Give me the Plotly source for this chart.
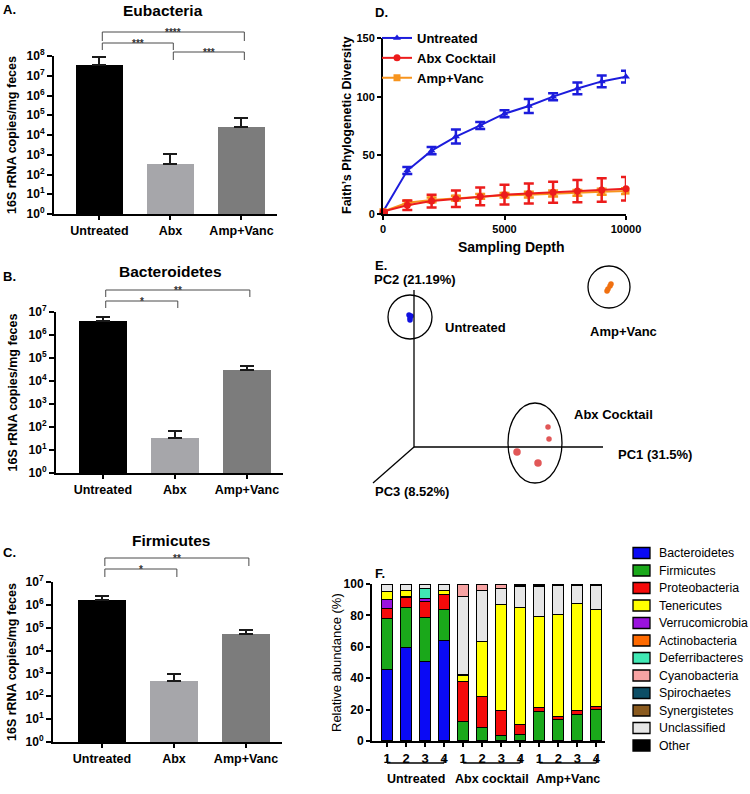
import plotly.graph_objects as go

W, H = 750, 794


def px(x):
    return x / W


def py(y):
    return 1 - y / H


FONT = "Arial, 'Liberation Sans', Helvetica, sans-serif"

# ---------------- data ----------------
groups = ["Untreated", "Abx", "Amp+Vanc"]
eub_mean = [3.5e7, 3.6e2, 2.6e4]
eub_upper = [9.0e7, 1.07e3, 7.4e4]
bac_mean = [4.1e6, 34, 3.1e4]
bac_upper = [6.0e6, 65, 4.4e4]
fir_mean = [1.7e6, 490, 5.5e4]
fir_upper = [2.5e6, 920, 8.3e4]
eub_sig = [(0, 2, "****"), (0, 1, "***"), (1, 2, "***")]
bac_sig = [(0, 2, "**"), (0, 1, "*")]
fir_sig = [(0, 2, "**"), (0, 1, "*")]

depth = [0, 1000, 2000, 3000, 4000, 5000, 6000, 7000, 8000, 9000, 10000]
pd_untreated = [2, 37, 54, 66, 75.5, 85.5, 92, 100, 107, 113, 117]
pd_untreated_err = [1, 3, 3, 6, 3, 3, 6, 3, 5, 5, 5]
pd_abx = [2, 7.5, 11, 13, 15, 16.5, 17.5, 18.5, 19.5, 20.5, 21.5]
pd_abx_err = [1, 4, 5.5, 7, 7.5, 8.5, 8.5, 9, 9.5, 10, 10]
pd_amp = [2, 9.5, 12, 13.5, 15, 16, 16.5, 17.5, 18, 19, 19.5]
pd_amp_err = [0.5, 1.5, 2, 2, 2, 2, 2.5, 2.5, 2.5, 2.5, 2.5]

# PCoA scores (arbitrary units)
pcoa_groups = ["Untreated", "Amp+Vanc", "Abx Cocktail"]
pc1 = {"Untreated": [-0.05, -0.04, -0.03, -0.04],
       "Amp+Vanc": [1.93, 1.94, 1.96, 1.97],
       "Abx Cocktail": [1.34, 1.35, 1.03, 1.24]}
pc2 = {"Untreated": [1.32, 1.29, 1.31, 1.27],
       "Amp+Vanc": [1.56, 1.58, 1.61, 1.63],
       "Abx Cocktail": [0.20, 0.08, -0.05, -0.16]}
pc3 = {"Untreated": [0.0, 0.0, 0.0, 0.0],
       "Amp+Vanc": [0.0, 0.0, 0.0, 0.0],
       "Abx Cocktail": [-0.5, -0.5, 0.5, 0.5]}
pc_labels = ["PC1 (31.5%)", "PC2 (21.19%)", "PC3 (8.52%)"]

samples = ["1", "2", "3", "4"] * 3
sample_groups = ["Untreated", "Abx cocktail", "Amp+Vanc"]
phyla_stack = {
    "Bacteroidetes":   [45.4, 59.3, 50.1, 63.4, 0, 0, 0, 0, 0, 0, 0, 0],
    "Firmicutes":      [32.6, 25.3, 28.5, 20.1, 11.8, 8.4, 3.4, 3.6, 18.2, 13.3, 16.5, 19.7],
    "Proteobacteria":  [6.0, 6.4, 10.1, 9.5, 26.1, 19.6, 15.6, 6.4, 2.6, 1.7, 2.8, 1.7],
    "Verrucomicrobia": [6.0, 0.5, 1.7, 0, 0, 0, 0, 0, 0, 0, 0, 0],
    "Deferribacteres": [0, 0, 6.4, 0, 0, 0, 0, 0, 0, 0, 0, 0],
    "Tenericutes":     [5.0, 4.3, 0.3, 2.7, 3.6, 35.0, 67.5, 75.0, 58.4, 65.0, 67.7, 62.1],
    "Actinobacteria":  [0, 0, 0, 0, 0.6, 0, 0, 0, 0, 0, 0, 0],
    "Synergistetes":   [0, 0, 0, 0, 0, 0, 0, 0, 0, 0, 0, 0],
    "Unclassified":    [4.5, 3.7, 2.4, 3.8, 49.9, 32.7, 10.3, 12.9, 18.8, 19.0, 12.0, 15.5],
    "Cyanobacteria":   [0, 0, 0, 0, 7.4, 3.7, 2.6, 0, 0, 0, 0, 0],
    "Spirochaetes":    [0, 0, 0, 0, 0, 0, 0, 0, 0, 0, 0.6, 0.6],
    "Other":           [0.5, 0.5, 0.5, 0.5, 0.6, 0.6, 0.6, 2.1, 2.0, 1.0, 0.4, 0.4],
}
legend_order = ["Bacteroidetes", "Firmicutes", "Proteobacteria", "Tenericutes",
                "Verrucomicrobia", "Actinobacteria", "Deferribacteres", "Cyanobacteria",
                "Spirochaetes", "Synergistetes", "Unclassified", "Other"]

# ---------------- styles ----------------
phylum_colors = {
    "Bacteroidetes": "#0a0af5", "Firmicutes": "#1aa81a", "Proteobacteria": "#f50a0a",
    "Tenericutes": "#ffff00", "Verrucomicrobia": "#9a12de", "Actinobacteria": "#ff6a00",
    "Deferribacteres": "#40e8b4", "Cyanobacteria": "#f7a3a3", "Spirochaetes": "#0c4e66",
    "Synergistetes": "#8a5a1e", "Unclassified": "#e6e6e6", "Other": "#000000",
}
bar_colors = ["#000000", "#a6a6aa", "#7c7c7c"]
line_colors = {"Untreated": "#1c1cdc", "Abx Cocktail": "#ec1c1c", "Amp+Vanc": "#f7941e"}
pcoa_colors = {"Untreated": "#1010e0", "Abx Cocktail": "#d41010", "Amp+Vanc": "#f07010"}

fig = go.Figure()
annotations = []
shapes = []


def bold(size, color="black"):
    return dict(family=FONT, size=size, color=color, weight="bold")


def note(text, x, y, font, xanchor="center", yanchor="middle", **kw):
    d = dict(text=text, x=px(x), y=py(y), xref="paper", yref="paper", showarrow=False,
             xanchor=xanchor, yanchor=yanchor, font=font)
    d.update(kw)
    annotations.append(d)


axis_common = dict(showgrid=False, zeroline=False, showline=True, linecolor="black",
                   linewidth=2, ticks="outside", tickcolor="black", tickwidth=2, ticklen=5,
                   automargin=False)

# ---------------- panels A, B, C ----------------
bar_panels = [
    dict(title="Eubacteria", letter="A.", mean=eub_mean, upper=eub_upper, sig=eub_sig, nexp=8,
         xa="x", ya="y", xdom=(54, 277), ydom=(56, 214), xr=(-0.64, 2.5), title_x=163,
         title_y=11, letter_y=10, levels=[(32, 41), (43, 50), (52, 60)]),
    dict(title="Bacteroidetes", letter="B.", mean=bac_mean, upper=bac_upper, sig=bac_sig, nexp=7,
         xa="x2", ya="y2", xdom=(56, 283), ydom=(312, 473), xr=(-0.65, 2.5), title_x=170,
         title_y=271, letter_y=277, levels=[(290, 297), (301, 308)]),
    dict(title="Firmicutes", letter="C.", mean=fir_mean, upper=fir_upper, sig=fir_sig, nexp=7,
         xa="x3", ya="y3", xdom=(53, 282), ydom=(582, 742), xr=(-0.68, 2.5), title_x=171,
         title_y=540, letter_y=552, levels=[(558, 566), (569, 577)]),
]

layout_axes = {}
for p in bar_panels:
    xs = list(range(len(groups)))
    fig.add_trace(go.Bar(
        x=xs, y=p["mean"], width=0.66, marker=dict(color=bar_colors, line=dict(width=0)),
        error_y=dict(type="data", symmetric=False,
                     array=[u - m for u, m in zip(p["upper"], p["mean"])],
                     arrayminus=[0] * len(xs), color="#1a1a1a", thickness=2, width=7),
        xaxis=p["xa"], yaxis=p["ya"], showlegend=False))
    xname = "xaxis" + p["xa"][1:]
    yname = "yaxis" + p["ya"][1:]
    layout_axes[xname] = dict(axis_common, domain=[px(p["xdom"][0]), px(p["xdom"][1])],
                              range=list(p["xr"]), tickvals=xs, ticktext=groups,
                              tickfont=bold(12.5), anchor=p["ya"], ticklen=4)
    layout_axes[yname] = dict(axis_common, type="log", domain=[py(p["ydom"][1]), py(p["ydom"][0])],
                              range=[0, p["nexp"]],
                              tickvals=[10 ** k for k in range(p["nexp"] + 1)],
                              ticktext=["10<sup>%d</sup>" % k for k in range(p["nexp"] + 1)],
                              tickfont=bold(12), anchor=p["xa"])
    note(p["title"], p["title_x"], p["title_y"], bold(15.5))
    note(p["letter"], 1, p["letter_y"], bold(13), xanchor="left")
    note("16S rRNA copies/mg feces", 12, (p["ydom"][0] + p["ydom"][1]) / 2, bold(12.5), textangle=-90)
    for (i, j, lab), (ytop, ybot) in zip(p["sig"], p["levels"]):
        x0, x1 = i + 0.04, j + 0.04
        for path in [(x0, ybot, x0, ytop), (x0, ytop, x1, ytop), (x1, ytop, x1, ybot)]:
            shapes.append(dict(type="line", xref=p["xa"], yref="paper",
                               x0=path[0], y0=py(path[1]), x1=path[2], y1=py(path[3]),
                               line=dict(color="#4a4a4a", width=1)))
        annotations.append(dict(text=lab, x=(x0 + x1) / 2, y=py(ytop), xref=p["xa"], yref="paper",
                                showarrow=False, xanchor="center", yanchor="middle",
                                font=bold(10, "#333333")))

# ---------------- panel D ----------------
d_series = [
    ("Untreated", pd_untreated, pd_untreated_err, "triangle-up", 1),
    ("Amp+Vanc", pd_amp, pd_amp_err, "square", 3),
    ("Abx Cocktail", pd_abx, pd_abx_err, "circle", 2),
]
for name, vals, errs, sym, rank in d_series:
    c = line_colors[name]
    fig.add_trace(go.Scatter(
        x=depth, y=vals, mode="lines+markers", name=name, legendrank=rank,
        line=dict(color=c, width=2), marker=dict(symbol=sym, size=7, color=c),
        error_y=dict(type="data", array=errs, color=c, thickness=2.5, width=5),
        xaxis="x4", yaxis="y4", cliponaxis=False))
layout_axes["xaxis4"] = dict(axis_common, domain=[px(383), px(626)], range=[0, 10000],
                             tickvals=[0, 5000, 10000], tickformat="d", tickfont=bold(11),
                             anchor="y4", ticklen=4)
layout_axes["yaxis4"] = dict(axis_common, domain=[py(214), py(38)], range=[0, 150],
                             tickvals=[0, 50, 100, 150], tickfont=bold(11), anchor="x4", ticklen=4)
note("D.", 373, 12, bold(13), xanchor="left")
note("Faith\u2019s Phylogenetic Diversity", 347, 126, bold(12.5), textangle=-90)
note("Sampling Depth", 511, 247, bold(14))

# ---------------- panel E ----------------
for g in pcoa_groups:
    c = pcoa_colors[g]
    sizes = [6.5 + 2 * z for z in pc3[g]]
    fig.add_trace(go.Scatter(x=pc1[g], y=pc2[g], mode="markers", showlegend=False,
                             marker=dict(color=c, size=sizes if g == "Abx Cocktail" else 5.5,
                                         line=dict(width=0)),
                             xaxis="x5", yaxis="y5", cliponaxis=False))
layout_axes["xaxis5"] = dict(visible=False, domain=[px(370), px(750)], range=[-0.44, 3.36],
                             anchor="y5", automargin=False)
layout_axes["yaxis5"] = dict(visible=False, domain=[py(500), py(250)], range=[-0.53, 1.97],
                             anchor="x5", automargin=False)
for x0, y0, x1, y1 in [(0, 0, 0, 1.57), (0, 0, 1.89, 0), (0, 0, -0.41, -0.36)]:
    shapes.append(dict(type="line", xref="x5", yref="y5", x0=x0, y0=y0, x1=x1, y1=y1,
                       line=dict(color="black", width=1.3)))
for (cxv, cyv, rx, ry) in [(-0.04, 1.30, 0.22, 0.22), (1.95, 1.60, 0.21, 0.21), (1.21, 0.04, 0.27, 0.40)]:
    shapes.append(dict(type="circle", xref="x5", yref="y5", x0=cxv - rx, x1=cxv + rx,
                       y0=cyv - ry, y1=cyv + ry, line=dict(color="black", width=1.3)))
for txt, xx, yy in [("Untreated", 443, 327), ("Amp+Vanc", 588, 331), ("Abx Cocktail", 572, 414),
                    (pc_labels[0], 616, 454), (pc_labels[1], 372, 279), (pc_labels[2], 373, 491)]:
    note(txt, xx, yy, bold(13), xanchor="left")
note("E.", 373, 265, bold(13), xanchor="left")

# ---------------- panel F ----------------
xpos = list(range(1, len(samples) + 1))
for name, vals in phyla_stack.items():
    fig.add_trace(go.Bar(x=xpos, y=vals, name=name, width=0.58, showlegend=False,
                         marker=dict(color=phylum_colors[name], line=dict(color="black", width=1)),
                         xaxis="x6", yaxis="y6"))
layout_axes["xaxis6"] = dict(axis_common, domain=[px(372), px(605)], range=[0.21, 12.45],
                             tickvals=xpos, ticktext=samples, tickfont=bold(13), anchor="y6", ticklen=4)
layout_axes["yaxis6"] = dict(axis_common, domain=[py(741), py(584)], range=[0, 100],
                             tickvals=[0, 20, 40, 60, 80, 100], tickfont=bold(12), anchor="x6", ticklen=4)
note("F.", 373, 573, bold(13), xanchor="left")
note("Relative abundance (%)", 336, 663, dict(family=FONT, size=13, color="black"), textangle=-90)
for gi, gname in enumerate(sample_groups):
    a, b = 1 + 4 * gi, 4 + 4 * gi
    for path in [(a, 758, a, 763), (a, 763, b, 763), (b, 763, b, 758)]:
        shapes.append(dict(type="line", xref="x6", yref="paper", x0=path[0], y0=py(path[1]),
                           x1=path[2], y1=py(path[3]), line=dict(color="black", width=1.3)))
    annotations.append(dict(text=gname, x=(a + b) / 2, y=py(779), xref="x6", yref="paper",
                            showarrow=False, xanchor="center", yanchor="middle", font=bold(12.5)))
# legend for F
for k, name in enumerate(legend_order):
    yc = 553 + 17.5 * k
    shapes.append(dict(type="rect", xref="paper", yref="paper", x0=px(633), x1=px(650),
                       y0=py(yc - 5.5), y1=py(yc + 5.5), fillcolor=phylum_colors[name],
                       line=dict(color="black", width=1.3)))
    note(name, 657, yc, dict(family=FONT, size=12.3, color="black"), xanchor="left")

fig.update_layout(
    template="none",
    width=W, height=H, margin=dict(l=0, r=0, t=0, b=0, pad=0),
    paper_bgcolor="white", plot_bgcolor="white", barmode="stack", bargap=0,
    font=dict(family=FONT, color="black"),
    annotations=annotations, shapes=shapes,
    legend=dict(x=px(377), y=py(23), xanchor="left", yanchor="top", bgcolor="rgba(0,0,0,0)",
                font=bold(13), itemwidth=30, tracegroupgap=0, traceorder="normal"),
    **layout_axes,
)

fig.write_html("out.html", config={"displayModeBar": False},
               post_script="document.body.style.margin='0px';")
